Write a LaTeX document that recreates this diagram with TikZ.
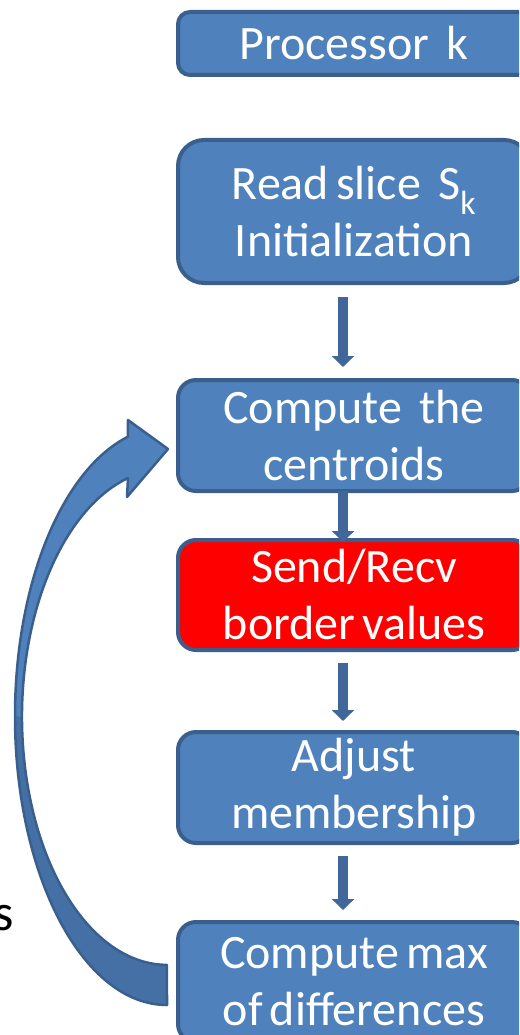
\documentclass[tikz,border=0pt]{standalone}
\usepackage{fontspec}
\setmainfont{Carlito}[WordSpace=0.65]
\usetikzlibrary{arrows.meta}
\definecolor{boxblue}{HTML}{4F81BD}
\definecolor{edgeblue}{HTML}{3A5F8D}
\definecolor{connblue}{HTML}{41679A}
\definecolor{darkband}{HTML}{4470A6}
\newcommand{\widegap}{\hspace{0.36em}}
\begin{document}
\begin{tikzpicture}[x=1pt,y=-1pt,
  stage/.style={draw=edgeblue, line width=4pt, fill=boxblue, text=white,
    rectangle, rounded corners=#1, minimum width=352pt, outer sep=0pt,
    inner sep=0pt, align=center, font=\fontsize{48}{57}\selectfont},
  stage/.default=18pt,
  conn/.style={draw=connblue, line width=10pt,
    -{Triangle[width=22pt,length=11pt]}},
  loopband/.style={line width=2.5pt, line join=round}]
\useasboundingbox (0,0) rectangle (519,1035);
\clip (0,0) rectangle (519,1035);

% partial label on the left
\node[anchor=base east, inner sep=0pt, font=\fontsize{52}{60}\selectfont] (lbl) at (14,930) {s};

% loop-back arrow
\fill[boxblue]
  (167,1005) arc[start angle=90, end angle=255.1, x radius=152, y radius=289]
  -- (128,420) -- (168,449) -- (127,497) -- (128,478)
  arc[start angle=254.4, end angle=90, x radius=145, y radius=248] -- cycle;
\fill[darkband]
  (167,1005) arc[start angle=90, end angle=180, x radius=152, y radius=289]
  -- (22,717) arc[start angle=180, end angle=90, x radius=145, y radius=248] -- cycle;
\draw[edgeblue, loopband]
  (167,1005) arc[start angle=90, end angle=255.1, x radius=152, y radius=289]
  -- (128,420) -- (168,449) -- (127,497) -- (128,478)
  arc[start angle=254.4, end angle=90, x radius=145, y radius=248] -- cycle;

% stages
\node[stage=12pt, minimum height=63pt] (b1) at (354,43.5) {Processor\widegap k};
\node[stage=26pt, minimum height=143pt] (b2) at (354,211.5) {Read slice\widegap S\textsubscript{k}\\Initialization};
\node[stage, minimum height=111pt] (b3) at (354,435.5) {Compute\widegap the\\centroids};
\node[stage, fill=red, minimum height=110pt] (b4) at (354,595) {Send/Recv\\border values};
\node[stage, minimum height=111pt] (b5) at (354,787.5) {Adjust\\membership};
\node[stage, minimum height=120pt] (b6) at (354,982) {Compute max\\of differences};

% connectors
\draw[conn, shorten <=14pt, shorten >=13pt] ([xshift=165pt]b2.south west) -- ([xshift=165pt]b3.north west);
\draw[conn, shorten >=-2pt] ([xshift=165pt]b3.south west) -- ([xshift=165pt]b4.north west);
\draw[conn, shorten <=13pt, shorten >=11pt] ([xshift=165pt]b4.south west) -- ([xshift=165pt]b5.north west);
\draw[conn, shorten <=13pt, shorten >=12pt] ([xshift=165pt]b5.south west) -- ([xshift=165pt]b6.north west);
\end{tikzpicture}
\end{document}
